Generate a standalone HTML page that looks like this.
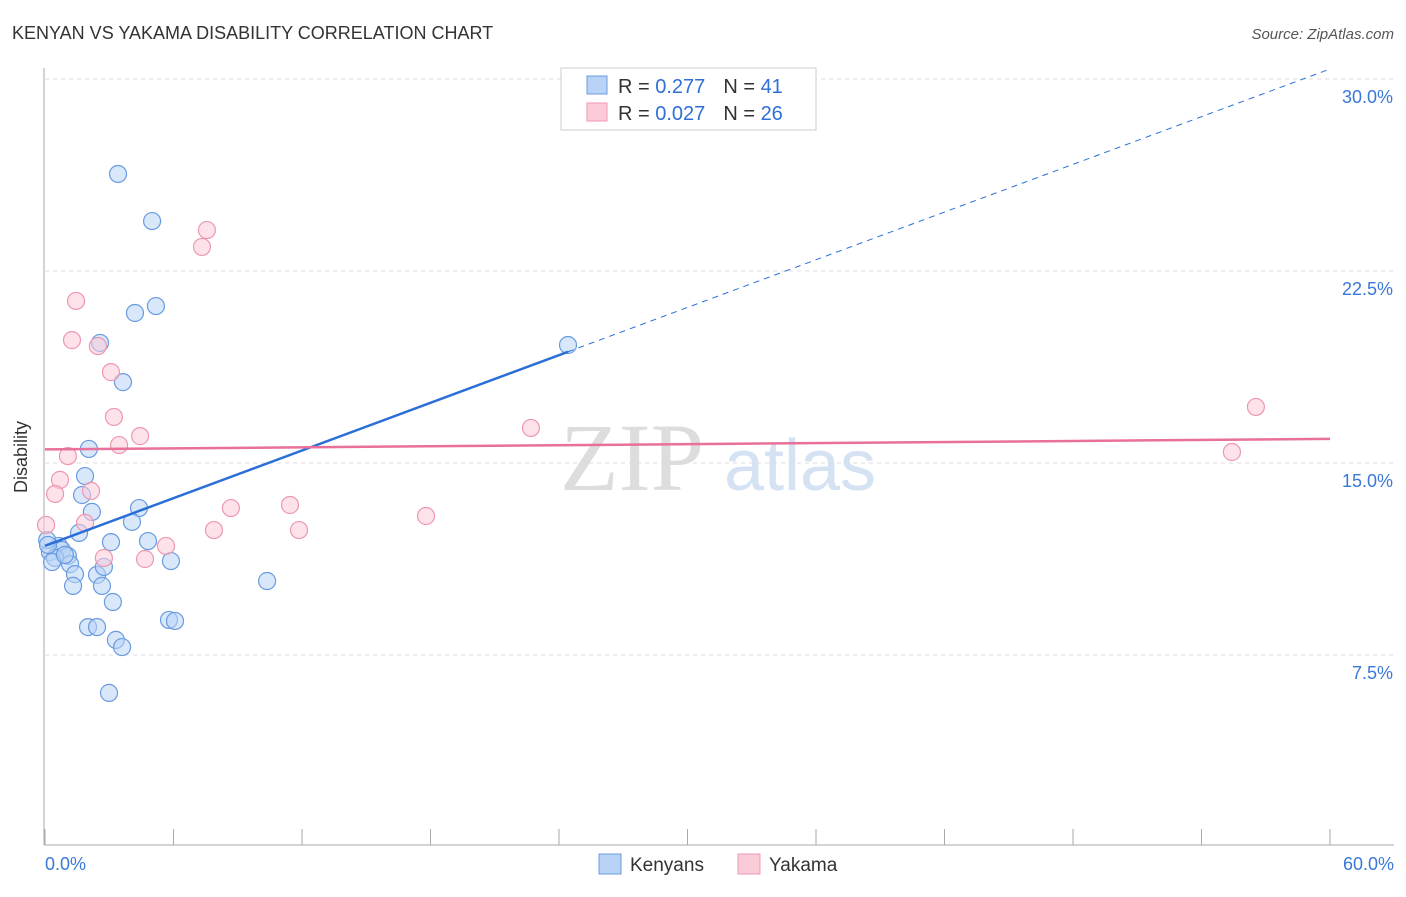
<!DOCTYPE html>
<html><head><meta charset="utf-8"><style>
body{margin:0;background:#fff;font-family:"Liberation Sans",sans-serif}
svg text{font-family:"Liberation Sans",sans-serif}
</style></head><body>
<svg width="1406" height="892">
<text x="12" y="39" font-size="18" fill="#333">KENYAN VS YAKAMA DISABILITY CORRELATION CHART</text>
<text x="1394" y="39" font-size="15" fill="#555" text-anchor="end" font-style="italic">Source: ZipAtlas.com</text>
<g>
<text x="632" y="490" font-size="96" fill="#ddd" text-anchor="middle" font-family="Liberation Serif" style="font-family:'Liberation Serif',serif">ZIP</text>
<text x="800" y="490" font-size="72" fill="#d4e2f4" text-anchor="middle">atlas</text>
</g>
<g id="grid"></g><g id="axes"></g><g id="pts"></g><g id="lines"></g>
<g>
<rect x="561" y="68" width="255" height="62" fill="#fff" stroke="#ccc"/>
<rect x="587" y="76" width="20" height="18" fill="#b8d3f5" stroke="#6a9be0"/>
<rect x="587" y="103" width="20" height="18" fill="#fbcbd8" stroke="#ec98b1"/>
<text x="618" y="93" font-size="20" fill="#333">R = <tspan fill="#2f6fd6">0.277</tspan><tspan dx="18">N = </tspan><tspan fill="#2f6fd6">41</tspan></text>
<text x="618" y="120" font-size="20" fill="#333">R = <tspan fill="#2f6fd6">0.027</tspan><tspan dx="18">N = </tspan><tspan fill="#2f6fd6">26</tspan></text>
</g>
<g>
<rect x="599" y="854" width="22" height="20" fill="#b8d3f5" stroke="#6a9be0"/>
<text x="630" y="871" font-size="19" fill="#333">Kenyans</text>
<rect x="738" y="854" width="22" height="20" fill="#fbcbd8" stroke="#ec98b1"/>
<text x="769" y="871" font-size="19" fill="#333">Yakama</text>
</g>
<text x="27" y="457" font-size="18" fill="#333" text-anchor="middle" transform="rotate(-90 27 457)">Disability</text>
</svg>
<script>
const blueX=[3.41,5.00,5.18,4.20,2.57,3.64,2.05,1.87,1.73,4.39,2.19,4.06,1.59,3.08,4.81,0.65,0.23,0.79,1.07,0.47,0.33,1.17,1.40,2.43,2.75,5.88,1.31,2.66,3.17,2.01,2.43,5.79,6.07,3.31,3.60,2.99,10.37,24.42,0.1,0.14,0.93];
const blueY=[26.29,24.45,21.13,20.86,19.69,18.16,15.55,14.49,13.75,13.24,13.09,12.70,12.27,11.91,11.95,11.76,11.52,11.60,11.37,11.29,11.13,11.05,10.66,10.63,10.94,11.17,10.20,10.20,9.57,8.59,8.59,8.87,8.83,8.09,7.81,6.02,10.39,19.61,11.99,11.80,11.41];
const pinkX=[7.56,7.33,1.45,1.26,2.47,3.08,3.22,4.44,3.46,1.07,0.70,0.47,2.15,1.87,0.05,2.75,4.67,5.65,7.89,8.68,11.44,11.86,17.79,22.69,56.54,55.42];
const pinkY=[24.10,23.44,21.33,19.80,19.57,18.55,16.80,16.05,15.70,15.27,14.34,13.79,13.91,12.66,12.58,11.29,11.25,11.76,12.38,13.24,13.36,12.38,12.93,16.37,17.19,15.43];
const yTicks=[7.5,15,22.5,30];
const xTickVals=[0,6,12,18,24,30,36,42,48,54,60];
const NS="http://www.w3.org/2000/svg";
const sx=v=>45+v*(1285/60), sy=v=>847-v*(192/7.5);
function mk(p,t,a){const e=document.createElementNS(NS,t);for(const k in a)e.setAttribute(k,a[k]);document.getElementById(p).appendChild(e);return e;}
yTicks.forEach(t=>{
 const l=mk('grid','line',{x1:45,x2:1394,y1:sy(t),y2:sy(t),stroke:'#ddd','stroke-dasharray':'4 4'});
 
 
 const tx=mk('grid','text',{x:1393,y:sy(t)+24,'font-size':18,fill:'#3a78d8','text-anchor':'end'});
 tx.textContent=t.toFixed(1)+'%';
 
 
});
const ax=mk('axes','line',{x1:44,x2:44,y1:68,y2:845,stroke:'#aaa'});


const bx=mk('axes','line',{x1:44,x2:1394,y1:845,y2:845,stroke:'#aaa'});


xTickVals.forEach(t=>{
 const l=mk('axes','line',{x1:sx(t),x2:sx(t),y1:829,y2:845,stroke:'#aaa'});
 
 
});
[[0,'start'],[60,'end']].forEach(([v,a])=>{
 const tx=mk('axes','text',{x:v==0?45:1394,y:870,'font-size':18,fill:'#3a78d8','text-anchor':a});
 tx.textContent=v.toFixed(1)+'%';
 
 
});
function pts(X,Y,fill,stroke,name){X.forEach((x,i)=>{
 const c=mk('pts','circle',{cx:sx(x),cy:sy(Y[i]),r:8.5,fill:fill,'fill-opacity':0.55,stroke:stroke,'stroke-width':1.2});
 
 
});}
pts(blueX,blueY,'#b8d3f5','#6a9be0','kenyan-point');
pts(pinkX,pinkY,'#fbcbd8','#ec98b1','yakama-point');
function reg(X,Y){const n=X.length,mx=X.reduce((a,b)=>a+b)/n,my=Y.reduce((a,b)=>a+b)/n;let sxy=0,sxx=0;X.forEach((x,i)=>{sxy+=(x-mx)*(Y[i]-my);sxx+=(x-mx)**2});const b=sxy/sxx;return [my-b*mx,b];}
const [ba,bb]=reg(blueX,blueY), bmax=Math.max(...blueX);
const b1=mk('lines','line',{x1:sx(0),y1:sy(ba),x2:sx(bmax),y2:sy(ba+bb*bmax),stroke:'#2a6fd8','stroke-width':2.5});


let xe=60; if(ba+bb*60>30.8) xe=(30.8-ba)/bb;
const b2=mk('lines','line',{x1:sx(bmax),y1:sy(ba+bb*bmax),x2:sx(xe),y2:sy(ba+bb*xe),stroke:'#2a6fd8','stroke-width':1,'stroke-dasharray':'6 5'});


const [pa,pb]=reg(pinkX,pinkY);
const p1=mk('lines','line',{x1:sx(0),y1:sy(pa),x2:sx(60),y2:sy(pa+pb*60),stroke:'#e8709a','stroke-width':2.5});


</script>
</body></html>
